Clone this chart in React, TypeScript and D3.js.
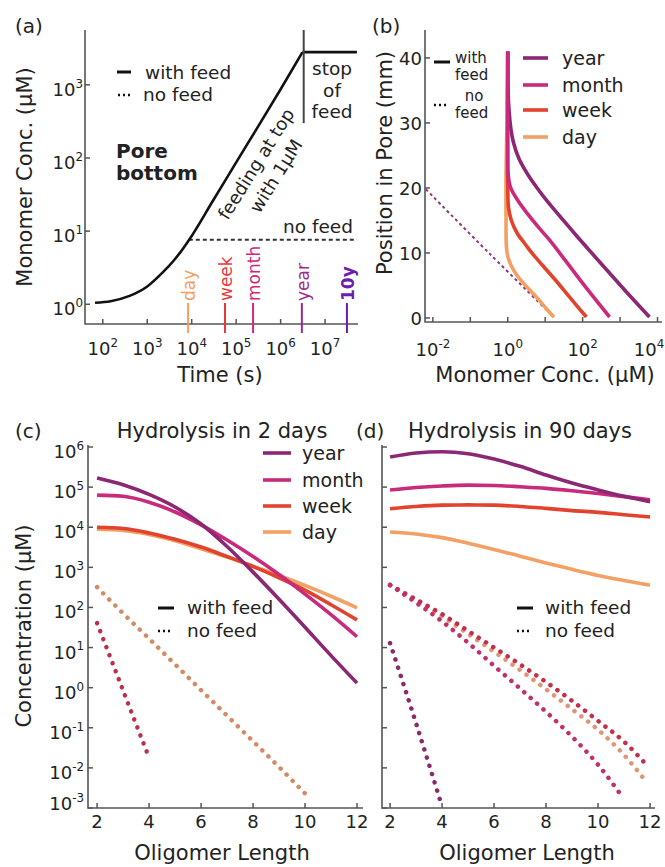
import React from "react";
import * as d3 from "d3";

const FONT = "'DejaVu Sans', Verdana, sans-serif";
const TXT = "#222";
const AXC = "#555";

// series colours
const C_YEAR = "#8c2873";
const C_MONTH = "#c92a7c";
const C_WEEK = "#e2432e";
const C_DAY = "#f2a064";

// ---------- Panel (a): monomer concentration at pore bottom ----------
const aTime = [67, 150, 400, 1000, 2200, 4000, 6300, 9000, 3e4, 1e5, 3e5, 1e6, 3.1e6];
const aConc = [1.05, 1.1, 1.3, 1.75, 2.7, 4.0, 5.7, 7.8, 26, 87, 260, 870, 2800];
const aFlatTime = [3.1e6, 5.2e7];
const aFlatConc = [2800, 2800];
const aNoFeedTime = [8600, 5.2e7];
const aNoFeedConc = [7.6, 7.6];
const aStopTime = 3.3e6;
const aStopConcLow = 300;
const markerNames = ["day", "week", "month", "year", "10y"];
const markerTimes = [8300, 5.6e4, 2.4e5, 3.0e6, 3.1e7];
const markerColors = ["#f0a060", "#e8383c", "#d3287a", "#9a2a90", "#6e1cb0"];
const aXTickExp = [2, 3, 4, 5, 6, 7];
const aYTickExp = [0, 1, 2, 3];

// ---------- Panel (b): profile along pore ----------
const bPosYear = [41, 35, 32, 29, 27, 24.5, 22, 20, 18, 13, 8, 4, 0.15];
const bConcYear = [1.0, 1.02, 1.08, 1.22, 1.42, 2.0, 3.5, 6.1, 11.2, 61, 355, 1480, 6100];
const bPosMonth = [41, 26, 22, 20, 18, 16, 14, 12, 8.9, 4.5, 0.15];
const bConcMonth = [1.0, 1.0, 1.03, 1.2, 1.9, 3.4, 6.5, 13, 34, 130, 525];
const bPosWeek = [41, 20, 17, 15, 13, 11.5, 10, 8, 5.8, 3, 0.15];
const bConcWeek = [1.0, 1.0, 1.05, 1.25, 1.8, 2.8, 4.4, 8.8, 19, 48, 126];
const bPosDay = [41, 30, 22, 14, 11, 9.5, 8, 6.5, 4.8, 3, 1.5, 0.15];
const bConcDay = [1.0, 0.95, 0.9, 0.9, 0.92, 1.0, 1.25, 1.8, 3.2, 6.3, 10.5, 17];
const bPosNoFeed = [19.8, 9.8, 0.15];
const bConcNoFeed = [0.0065, 0.34, 17];
const bYTicks = [0, 10, 20, 30, 40];
const bXTickExp = [-2, -1, 0, 1, 2, 3, 4];
const bXLabelExp = [-2, 0, 2, 4];

// ---------- Panels (c) and (d): oligomer distributions ----------
const lengths = [2, 3, 4, 5, 6, 7, 8, 9, 10, 11, 12];
// (c) hydrolysis in 2 days, with feed
const cYear = [1.7e5, 1.15e5, 6.6e4, 3.2e4, 1.2e4, 3300, 760, 160, 32, 6.3, 1.3];
const cMonth = [6.3e4, 5.9e4, 4.2e4, 2.4e4, 1.15e4, 4800, 1860, 660, 215, 66, 18.6];
const cWeek = [1.0e4, 9300, 7200, 5000, 3200, 1860, 1050, 550, 270, 117, 49];
const cDay = [8900, 8300, 6600, 4600, 2900, 1800, 1070, 630, 355, 190, 98];
// (c) no feed
const cNoFeedDayLen = [2, 3, 4, 5, 6, 7, 8, 9, 10];
const cNoFeedDay = [320, 71, 16.6, 3.8, 0.87, 0.2, 0.046, 0.0105, 0.0023];
const cNoFeedWeekLen = [2, 3, 4];
const cNoFeedWeek = [41, 0.85, 0.018];
// (d) hydrolysis in 90 days, with feed
const dYear = [5.6e5, 7.1e5, 7.6e5, 6.8e5, 5.0e5, 3.3e5, 2.0e5, 1.26e5, 8.5e4, 5.9e4, 4.3e4];
const dMonth = [8.5e4, 9.8e4, 1.07e5, 1.12e5, 1.1e5, 1.02e5, 9.3e4, 8.1e4, 6.9e4, 5.8e4, 4.8e4];
const dWeek = [2.9e4, 3.3e4, 3.55e4, 3.6e4, 3.55e4, 3.3e4, 2.95e4, 2.6e4, 2.35e4, 2.05e4, 1.8e4];
const dDay = [7600, 6800, 5500, 4000, 2800, 1900, 1290, 890, 630, 470, 360];
// (d) no feed
const dNoFeedLen = [2, 3, 4, 5, 6, 7, 8, 9, 10, 11, 11.8];
const dNoFeedWeek = [363, 158, 68, 26, 10, 3.8, 1.38, 0.47, 0.148, 0.045, 0.0132];
const dNoFeedDay = [363, 151, 60, 22, 7.9, 2.75, 0.91, 0.29, 0.089, 0.021, 0.005];
const dNoFeedMonthLen = [2, 3, 4, 5, 6, 7, 8, 9, 10, 10.96];
const dNoFeedMonth = [363, 132, 45, 13.2, 3.5, 0.95, 0.25, 0.06, 0.012, 0.0018];
const dNoFeedYearLen = [2, 3, 3.92];
const dNoFeedYear = [12.9, 0.13, 0.0016];
const cdYTickExp = [-3, -2, -1, 0, 1, 2, 3, 4, 5, 6];
const cdXTicks = [2, 4, 6, 8, 10, 12];

const legendNames = ["year", "month", "week", "day"];
const legendColors = [C_YEAR, C_MONTH, C_WEEK, C_DAY];

const zip = (a: number[], b: number[]) => a.map((v, i) => [v, b[i]] as [number, number]);

function Pow10({ x, y, e, anchor = "middle", size = 18 }: any) {
  return (
    <text x={x} y={y} textAnchor={anchor} fontSize={size} fill={TXT}>
      10
      <tspan dy={-size * 0.45} fontSize={size * 0.66}>
        {e}
      </tspan>
    </text>
  );
}

export default function App() {
  // scales
  const ax = d3.scaleLog().domain([10 ** 1.6, 10 ** 7.74]).range([85, 358]);
  const ay = d3.scaleLog().domain([10 ** -0.27, 10 ** 3.75]).range([324, 30]);
  const bx = d3.scaleLog().domain([10 ** -2.21, 10 ** 4.12]).range([425, 662]);
  const by = d3.scaleLinear().domain([-0.62, 44.3]).range([322, 30]);
  const cx = d3.scaleLinear().domain([1.65, 12.23]).range([88, 363]);
  const dx = d3.scaleLinear().domain([1.69, 12.19]).range([382, 655]);
  const cy = d3.scaleLog().domain([1e-3, 10 ** 6.05]).range([808, 445]);

  const lineA = d3
    .line<[number, number]>()
    .x((d) => ax(d[0]))
    .y((d) => ay(d[1]))
    .curve(d3.curveMonotoneX);
  const lineALin = d3
    .line<[number, number]>()
    .x((d) => ax(d[0]))
    .y((d) => ay(d[1]));
  const lineB = d3
    .line<[number, number]>()
    .x((d) => bx(d[1]))
    .y((d) => by(d[0]))
    .curve(d3.curveCatmullRom.alpha(0.5));
  const lineC = d3
    .line<[number, number]>()
    .x((d) => cx(d[0]))
    .y((d) => cy(d[1]))
    .curve(d3.curveMonotoneX);
  const lineD = d3
    .line<[number, number]>()
    .x((d) => dx(d[0]))
    .y((d) => cy(d[1]))
    .curve(d3.curveMonotoneX);

  const [ax0, ax1] = ax.range();
  const [ay0, ay1] = ay.range();
  const [bx0, bx1] = bx.range();
  const [by0, by1] = by.range();
  const [cx0, cx1] = cx.range();
  const [dx0, dx1] = dx.range();
  const [cy0, cy1] = cy.range();

  const axisStyle = { stroke: AXC, strokeWidth: 1.6, fill: "none" } as any;
  const solidW = 3.6;
  const dotProps = { strokeDasharray: "0.1 8.5", strokeLinecap: "round", strokeWidth: 4.5, fill: "none" } as any;
  const bLegY = [58, 85, 110, 137];
  const cLegY = [453, 480, 506, 532];

  return (
    <svg
      width={665}
      height={867}
      style={{ position: "absolute", left: 0, top: 0, background: "#fff" }}
      fontFamily={FONT}
    >
      <rect x={0} y={0} width={665} height={867} fill="#fff" />

      {/* ================= Panel (a) ================= */}
      <text x={15} y={33} fontSize={20} fill={TXT}>(a)</text>
      <path d={`M${ax0},${ay1}V${ay0}H${ax1}`} {...axisStyle} />
      {aXTickExp.map((e) => (
        <g key={"ax" + e}>
          <line x1={ax(10 ** e)} x2={ax(10 ** e)} y1={ay0} y2={ay0 - 5} stroke={AXC} strokeWidth={1.5} />
          <Pow10 x={ax(10 ** e)} y={355} e={e} />
        </g>
      ))}
      {aYTickExp.map((e) => (
        <g key={"ay" + e}>
          <line x1={ax0} x2={ax0 + 5} y1={ay(10 ** e)} y2={ay(10 ** e)} stroke={AXC} strokeWidth={1.5} />
          <Pow10 x={ax0 - 2} y={ay(10 ** e) + 11} e={e} anchor="end" />
        </g>
      ))}
      <text x={220} y={382} fontSize={21} textAnchor="middle" fill={TXT}>Time (s)</text>
      <text transform={`translate(32,177) rotate(-90)`} fontSize={21} textAnchor="middle" fill={TXT}>
        Monomer Conc. (μM)
      </text>

      {/* time markers */}
      {markerNames.map((n, i) => (
        <g key={n}>
          <line x1={ax(markerTimes[i])} x2={ax(markerTimes[i])} y1={303} y2={333} stroke={markerColors[i]} strokeWidth={2} />
          <text
            transform={`translate(${ax(markerTimes[i]) + 7},301) rotate(-90)`}
            fontSize={17}
            fill={markerColors[i]}
            fontWeight={n === "10y" ? "bold" : "normal"}
          >
            {n}
          </text>
        </g>
      ))}

      {/* curves */}
      <path d={lineALin(zip(aNoFeedTime, aNoFeedConc)) || ""} stroke="#333" strokeWidth={2} strokeDasharray="4 3" fill="none" />
      <path d={lineA(zip(aTime, aConc)) || ""} stroke="#111" strokeWidth={2.6} fill="none" />
      <path d={lineALin(zip(aFlatTime, aFlatConc)) || ""} stroke="#111" strokeWidth={2.6} fill="none" />
      <line x1={ax(aStopTime)} x2={ax(aStopTime)} y1={ay1} y2={ay(aStopConcLow)} stroke="#444" strokeWidth={2} />
      <text x={332} y={75} fontSize={18.5} textAnchor="middle" fill={TXT}>stop</text>
      <text x={332} y={97} fontSize={18.5} textAnchor="middle" fill={TXT}>of</text>
      <text x={332} y={118} fontSize={18.5} textAnchor="middle" fill={TXT}>feed</text>
      <text x={353} y={233} fontSize={18.5} textAnchor="end" fill={TXT}>no feed</text>
      <text transform="translate(256,164) rotate(-58)" fontSize={18} textAnchor="middle" dy="0.35em" fill={TXT}>
        feeding at top
      </text>
      <text transform="translate(276,176) rotate(-58)" fontSize={18} textAnchor="middle" dy="0.35em" fill={TXT}>
        with 1μM
      </text>
      <text x={116} y={158} fontSize={20} fontWeight="bold" fill={TXT}>Pore</text>
      <text x={116} y={180} fontSize={20} fontWeight="bold" fill={TXT}>bottom</text>

      {/* legend (a) */}
      <line x1={117} x2={131} y1={72} y2={72} stroke="#111" strokeWidth={3} />
      <text x={145} y={79} fontSize={18.5} fill={TXT}>with feed</text>
      <line x1={118} x2={131} y1={95} y2={95} stroke="#111" strokeWidth={2.5} strokeDasharray="2 3" />
      <text x={143} y={101} fontSize={18.5} fill={TXT}>no feed</text>

      {/* ================= Panel (b) ================= */}
      <text x={372} y={33} fontSize={20} fill={TXT}>(b)</text>
      <path d={`M${bx0},${by1}V${by0}H${bx1}`} {...axisStyle} />
      {bXTickExp.map((e) => (
        <line key={"bxt" + e} x1={bx(10 ** e)} x2={bx(10 ** e)} y1={by0} y2={by0 - 5} stroke={AXC} strokeWidth={1.5} />
      ))}
      {bXLabelExp.map((e) => (
        <Pow10 key={"bxl" + e} x={Math.min(bx(10 ** e), 649)} y={356} e={e} />
      ))}
      {bYTicks.map((v) => (
        <g key={"byt" + v}>
          <line x1={bx0} x2={bx0 + 5} y1={by(v)} y2={by(v)} stroke={AXC} strokeWidth={1.5} />
          <text x={bx0 - 3} y={by(v) + 7} fontSize={18} textAnchor="end" fill={TXT}>{v}</text>
        </g>
      ))}
      <text x={545} y={382} fontSize={21} textAnchor="middle" fill={TXT}>Monomer Conc. (μM)</text>
      <text transform="translate(392,163) rotate(-90)" fontSize={21} textAnchor="middle" fill={TXT}>
        Position in Pore (mm)
      </text>

      <path d={lineB(zip(bPosNoFeed, bConcNoFeed)) || ""} stroke="#8b3a7a" strokeWidth={2} strokeDasharray="3 3" fill="none" />
      <path d={lineB(zip(bPosDay, bConcDay)) || ""} stroke={C_DAY} strokeWidth={solidW} fill="none" />
      <path d={lineB(zip(bPosWeek, bConcWeek)) || ""} stroke={C_WEEK} strokeWidth={solidW} fill="none" />
      <path d={lineB(zip(bPosYear, bConcYear)) || ""} stroke={C_YEAR} strokeWidth={solidW} fill="none" />
      <path d={lineB(zip(bPosMonth, bConcMonth)) || ""} stroke={C_MONTH} strokeWidth={solidW} fill="none" />

      {/* legend (b) */}
      <line x1={434} x2={450} y1={62} y2={62} stroke="#111" strokeWidth={3} />
      <text x={455} y={63} fontSize={15} fill={TXT}>with</text>
      <text x={455} y={80} fontSize={15} fill={TXT}>feed</text>
      <line x1={434} x2={448} y1={105} y2={105} stroke="#111" strokeWidth={2.5} strokeDasharray="2 3" />
      <text x={474} y={101} fontSize={15} textAnchor="middle" fill={TXT}>no</text>
      <text x={455} y={118} fontSize={15} fill={TXT}>feed</text>
      {legendNames.map((n, i) => (
        <g key={"bl" + n}>
          <line x1={523} x2={548} y1={bLegY[i]} y2={bLegY[i]} stroke={legendColors[i]} strokeWidth={3.6} />
          <text x={562} y={bLegY[i] + 7} fontSize={19} fill={TXT}>{n}</text>
        </g>
      ))}

      {/* ================= Panel (c) ================= */}
      <text x={15} y={438} fontSize={20} fill={TXT}>(c)</text>
      <text x={222} y={438} fontSize={21} textAnchor="middle" fill={TXT}>Hydrolysis in 2 days</text>
      <path d={`M${cx0},${cy1}V${cy0}H${cx1}`} {...axisStyle} />
      {cdXTicks.map((v) => (
        <g key={"cx" + v}>
          <line x1={cx(v)} x2={cx(v)} y1={cy0} y2={cy0 - 5} stroke={AXC} strokeWidth={1.5} />
          <text x={cx(v)} y={828} fontSize={18} textAnchor="middle" fill={TXT}>{v}</text>
        </g>
      ))}
      {cdYTickExp.map((e) => (
        <g key={"cy" + e}>
          <line x1={cx0} x2={cx0 + 5} y1={cy(10 ** e)} y2={cy(10 ** e)} stroke={AXC} strokeWidth={1.5} />
          <Pow10 x={cx0 - 4} y={Math.min(cy(10 ** e) + 11, 810)} e={e} anchor="end" />
        </g>
      ))}
      <text x={222} y={860} fontSize={21} textAnchor="middle" fill={TXT}>Oligomer Length</text>
      <text transform="translate(31,626) rotate(-90)" fontSize={21} textAnchor="middle" fill={TXT}>
        Concentration (μM)
      </text>

      <path d={lineC(zip(cNoFeedDayLen, cNoFeedDay)) || ""} stroke="#d48a66" {...dotProps} />
      <path d={lineC(zip(cNoFeedWeekLen, cNoFeedWeek)) || ""} stroke="#b8304a" {...dotProps} />
      <path d={lineC(zip(lengths, cDay)) || ""} stroke={C_DAY} strokeWidth={solidW} fill="none" />
      <path d={lineC(zip(lengths, cWeek)) || ""} stroke={C_WEEK} strokeWidth={solidW} fill="none" />
      <path d={lineC(zip(lengths, cMonth)) || ""} stroke={C_MONTH} strokeWidth={solidW} fill="none" />
      <path d={lineC(zip(lengths, cYear)) || ""} stroke={C_YEAR} strokeWidth={solidW} fill="none" />

      {legendNames.map((n, i) => (
        <g key={"cl" + n}>
          <line x1={263} x2={291} y1={cLegY[i]} y2={cLegY[i]} stroke={legendColors[i]} strokeWidth={3.6} />
          <text x={302} y={cLegY[i] + 7} fontSize={19} fill={TXT}>{n}</text>
        </g>
      ))}
      <line x1={158} x2={174} y1={608} y2={608} stroke="#111" strokeWidth={3} />
      <text x={187} y={614} fontSize={18.5} fill={TXT}>with feed</text>
      <line x1={158} x2={173} y1={631} y2={631} stroke="#111" strokeWidth={2.5} strokeDasharray="2 3" />
      <text x={187} y={637} fontSize={18.5} fill={TXT}>no feed</text>

      {/* ================= Panel (d) ================= */}
      <text x={356} y={438} fontSize={20} fill={TXT}>(d)</text>
      <text x={520} y={438} fontSize={21} textAnchor="middle" fill={TXT}>Hydrolysis in 90 days</text>
      <path d={`M${dx0},${cy1}V${cy0}H${dx1}`} {...axisStyle} />
      {cdXTicks.map((v) => (
        <g key={"dx" + v}>
          <line x1={dx(v)} x2={dx(v)} y1={cy0} y2={cy0 - 5} stroke={AXC} strokeWidth={1.5} />
          <text x={dx(v)} y={828} fontSize={18} textAnchor="middle" fill={TXT}>{v}</text>
        </g>
      ))}
      {cdYTickExp.map((e) => (
        <line key={"dy" + e} x1={dx0} x2={dx0 + 5} y1={cy(10 ** e)} y2={cy(10 ** e)} stroke={AXC} strokeWidth={1.5} />
      ))}
      <text x={527} y={860} fontSize={21} textAnchor="middle" fill={TXT}>Oligomer Length</text>

      <path d={lineD(zip(dNoFeedLen, dNoFeedDay)) || ""} stroke="#e0957a" {...dotProps} />
      <path d={lineD(zip(dNoFeedLen, dNoFeedWeek)) || ""} stroke="#c0304a" {...dotProps} />
      <path d={lineD(zip(dNoFeedMonthLen, dNoFeedMonth)) || ""} stroke="#c0306e" {...dotProps} />
      <path d={lineD(zip(dNoFeedYearLen, dNoFeedYear)) || ""} stroke="#8a2a6e" {...dotProps} />
      <path d={lineD(zip(lengths, dDay)) || ""} stroke={C_DAY} strokeWidth={solidW} fill="none" />
      <path d={lineD(zip(lengths, dWeek)) || ""} stroke={C_WEEK} strokeWidth={solidW} fill="none" />
      <path d={lineD(zip(lengths, dMonth)) || ""} stroke={C_MONTH} strokeWidth={solidW} fill="none" />
      <path d={lineD(zip(lengths, dYear)) || ""} stroke={C_YEAR} strokeWidth={solidW} fill="none" />

      <line x1={517} x2={533} y1={608} y2={608} stroke="#111" strokeWidth={3} />
      <text x={545} y={614} fontSize={18.5} fill={TXT}>with feed</text>
      <line x1={517} x2={532} y1={631} y2={631} stroke="#111" strokeWidth={2.5} strokeDasharray="2 3" />
      <text x={545} y={637} fontSize={18.5} fill={TXT}>no feed</text>
    </svg>
  );
}
